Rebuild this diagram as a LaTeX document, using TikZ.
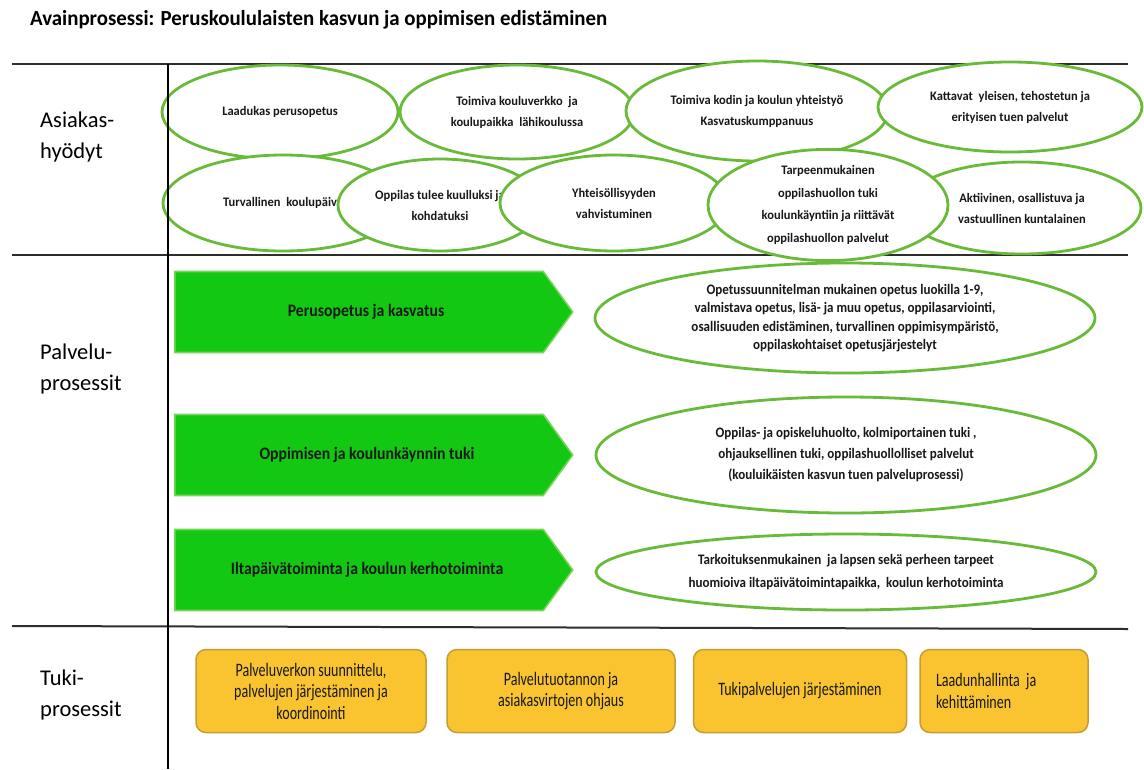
\documentclass[tikz,border=0pt]{standalone}
\usepackage{fontspec}
\setmainfont{Carlito}
\newfontfamily\titlefont[FakeStretch=0.97]{Carlito Bold}
\newfontfamily\labelfontfam{Carlito}
\newfontfamily\boldfont[FakeStretch=0.96]{Carlito Bold}
\newfontfamily\arrowfontfam[FakeStretch=0.9]{Carlito Bold}
\newfontfamily\condfont[FakeStretch=0.74]{Carlito}
\usetikzlibrary{shapes.geometric,shapes.symbols}

\definecolor{ellgreen}{RGB}{106,186,58}
\definecolor{arrowgreen}{RGB}{18,200,18}
\definecolor{arrowedge}{RGB}{120,212,90}
\definecolor{boxorange}{RGB}{249,196,48}
\definecolor{boxedge}{RGB}{196,158,52}
\definecolor{txt}{RGB}{24,24,24}
\definecolor{rulegray}{RGB}{45,45,45}

\tikzset{
  benefit/.style={ellipse, draw=ellgreen, line width=2.8pt, fill=white,
    inner sep=0pt, align=center, text=txt,
    font={\boldfont\fontsize{13}{21}\selectfont}},
  service/.style={benefit, font={\arrowfontfam\fontsize{14.5}{18.5}\selectfont}},
  procarrow/.style={signal, signal to=east, signal from=nowhere,
    signal pointer angle=108, fill=arrowgreen, draw=arrowedge, line width=1.6pt,
    minimum width=398pt, minimum height=81pt, inner sep=0pt},
  arrowlabel/.style={font={\arrowfontfam\fontsize{17.5}{20}\selectfont}, text=txt},
  support/.style={rectangle, rounded corners=10pt, fill=boxorange, draw=boxedge,
    line width=1.5pt, minimum height=83pt, inner sep=0pt, align=center,
    text=txt, font={\condfont\fontsize{19}{21.5}\selectfont}},
  rowlabel/.style={anchor=west, align=left, inner sep=0pt, text=black,
    font={\labelfontfam\fontsize{22.5}{31}\selectfont}},
  rule/.style={draw=rulegray, line width=2pt},
  divider/.style={draw=black, line width=1.1pt},
}

\begin{document}
\begin{tikzpicture}[x=1pt,y=-1pt]
\useasboundingbox[fill=white] (0,0) rectangle (1144,769);

% title
\node[anchor=west, inner sep=0pt, text=black, font={\titlefont\fontsize{21.5}{24}\selectfont}]
  (title) at (30,20) {Avainprosessi: Peruskoululaisten kasvun ja oppimisen edistäminen};

% horizontal band rules
\coordinate (r1a) at (12,64);  \coordinate (r1b) at (1128,64);
\coordinate (r2a) at (12,255); \coordinate (r2b) at (1128,255);
\coordinate (r3a) at (12,626); \coordinate (r3b) at (1128,629);
\draw[rule] (r1a) -- (r1b);
\draw[rule] (r2a) -- (r2b);
\draw[rule] (r3a) -- (r3b);

% row labels
\node[rowlabel] (lab1) at (40,137) {Asiakas-\\hyödyt};
\node[rowlabel] (lab2) at (40,369) {Palvelu-\\prosessit};
\node[rowlabel] (lab3) at (40,695) {Tuki-\\prosessit};

% customer benefits, upper row
\node[benefit, minimum width=236pt, minimum height=94pt] (b1) at (280,112) {Laadukas perusopetus};
\node[benefit, minimum width=234pt, minimum height=94pt] (b2) at (517,112) {Toimiva kouluverkko \ ja\\koulupaikka \ lähikoulussa};
\node[benefit, minimum width=262pt, minimum height=100pt] (b3) at (757,111) {Toimiva kodin ja koulun yhteistyö\\Kasvatuskumppanuus};
\node[benefit, minimum width=264pt, minimum height=90pt] (b4) at (1010,107) {Kattavat \ yleisen, tehostetun ja\\erityisen tuen palvelut};

% customer benefits, lower row (later ones overlap earlier ones)
\node[benefit, minimum width=240pt, minimum height=96pt] (b5) at (283,203) {Turvallinen \ koulupäivä};
\node[benefit, minimum width=204pt, minimum height=92pt] (b6) at (440,205) {Oppilas tulee kuulluksi ja\\kohdatuksi};
\node[benefit, minimum width=228pt, minimum height=96pt] (b7) at (614,203) {Yhteisöllisyyden\\vahvistuminen};
\node[benefit, minimum width=238pt, minimum height=92pt] (b9) at (1022,208) {Aktiivinen, osallistuva ja\\vastuullinen kuntalainen};
\node[benefit, minimum width=240pt, minimum height=108pt, font={\boldfont\fontsize{13}{22.5}\selectfont}] (b8) at (828,205) {Tarpeenmukainen\\oppilashuollon tuki\\koulunkäyntiin ja riittävät\\oppilashuollon palvelut};

% service processes
\node[procarrow, label={[arrowlabel, xshift=7pt]center:Perusopetus ja kasvatus}] (p1) at (359,312) {};
\node[procarrow, label={[arrowlabel, xshift=8pt]center:Oppimisen ja koulunkäynnin tuki}] (p2) at (359,455) {};
\node[procarrow, label={[arrowlabel, xshift=8pt]center:Iltapäivätoiminta ja koulun kerhotoiminta}] (p3) at (359,570) {};

\node[service, minimum width=500pt, minimum height=110pt] (s1) at (845,318)
  {Opetussuunnitelman mukainen opetus luokilla 1-9,\\valmistava opetus, lisä- ja muu opetus, oppilasarviointi,\\osallisuuden edistäminen, turvallinen oppimisympäristö,\\oppilaskohtaiset opetusjärjestelyt};
\node[service, minimum width=500pt, minimum height=116pt, font={\arrowfontfam\fontsize{14.5}{21}\selectfont}] (s2) at (846,455)
  {Oppilas- ja opiskeluhuolto, kolmiportainen tuki ,\\ohjauksellinen tuki, oppilashuollolliset palvelut\\(kouluikäisten kasvun tuen palveluprosessi)};
\node[service, minimum width=500pt, minimum height=76pt, font={\arrowfontfam\fontsize{14.5}{23}\selectfont}] (s3) at (846,572)
  {Tarkoituksenmukainen \ ja lapsen sekä perheen tarpeet\\huomioiva iltapäivätoimintapaikka, \ koulun kerhotoiminta};

% support processes
\node[support, minimum width=230pt] (t1) at (311,691) {Palveluverkon suunnittelu,\\palvelujen järjestäminen ja\\koordinointi};
\node[support, minimum width=228pt] (t2) at (561,691) {Palvelutuotannon ja\\asiakasvirtojen ohjaus};
\node[support, minimum width=213pt] (t3) at (800,691) {Tukipalvelujen järjestäminen};
\node[support, minimum width=168pt, text width=136pt, align=left] (t4) at (1004,691) {Laadunhallinta ja\\kehittäminen};

% vertical divider between labels and content
\coordinate (vtop) at (168,64);
\coordinate (vbot) at (168,769);
\draw[divider] (vtop) -- (vbot);
\end{tikzpicture}
\end{document}
